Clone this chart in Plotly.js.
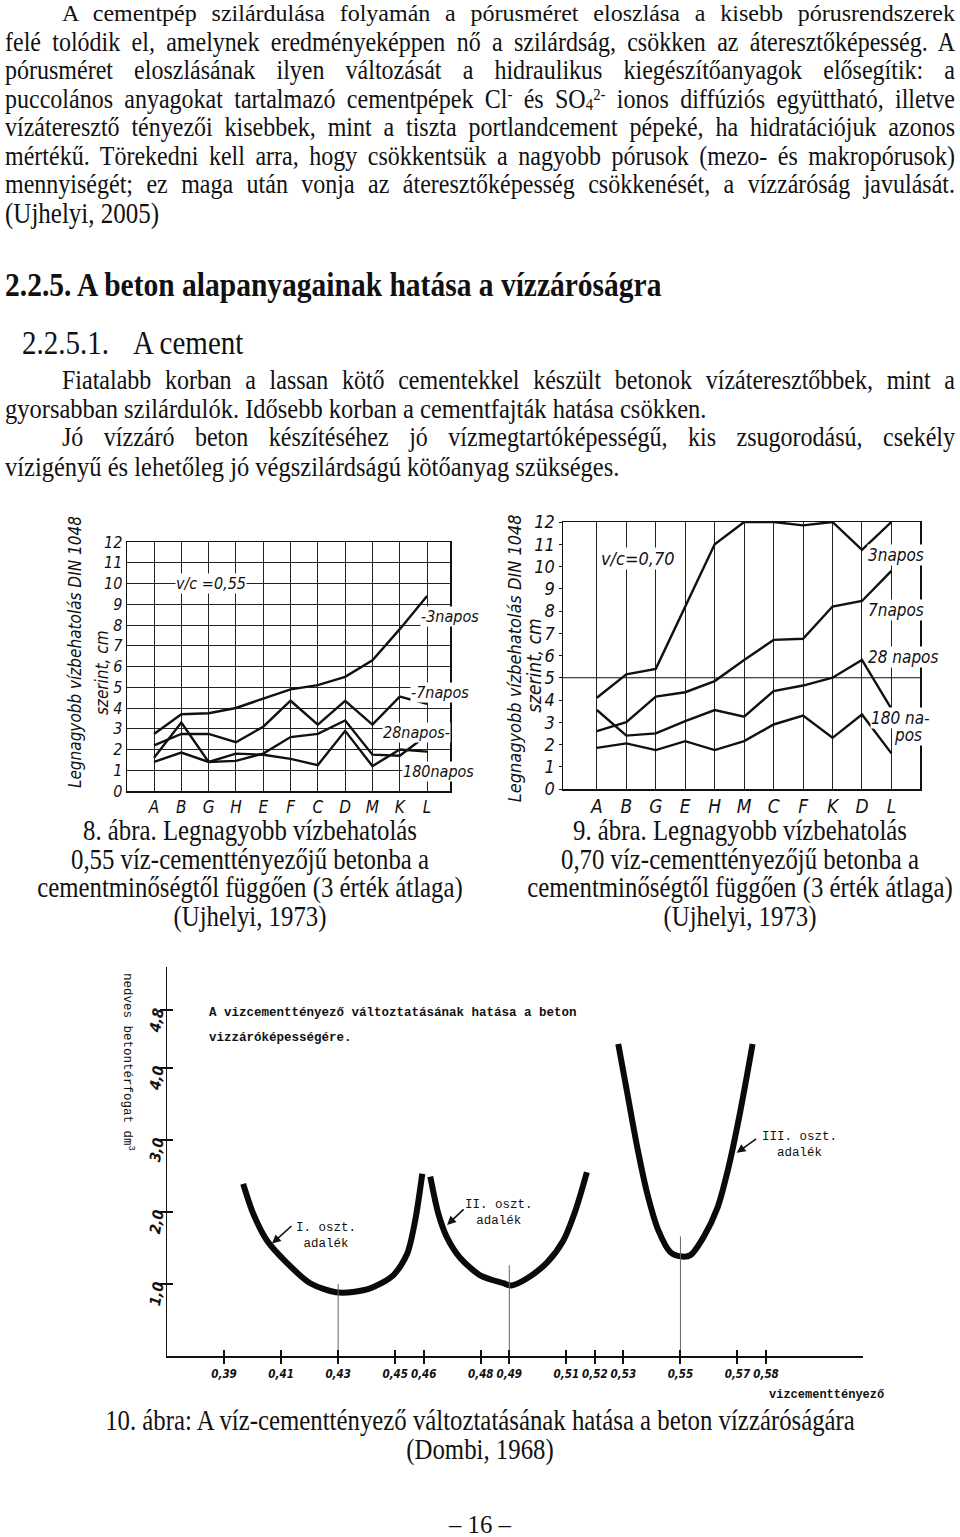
<!DOCTYPE html>
<html><head><meta charset="utf-8">
<script src="https://cdn.plot.ly/plotly-3.0.1.min.js"></script>
<style>
html,body{margin:0;padding:0;background:#fff;}
#page{position:relative;width:960px;height:1537px;overflow:hidden;background:#fff;}
.t{position:absolute;font-family:'Liberation Serif','Times New Roman',serif;font-size:24px;line-height:29px;height:29px;color:#111;white-space:nowrap;transform:scaleY(1.15);transform-origin:50% 50%;}
.j{text-align:justify;text-align-last:justify;white-space:normal;}
.c{text-align:center;font-size:24.8px;}
.sup{position:relative;top:-0.5em;font-size:0.62em;}
.sub{position:relative;top:0.15em;font-size:0.62em;}
.chart{position:absolute;}
</style></head><body><div id="page">
<div class="t j" style="left:62px;top:0px;width:893px;line-height:26.5px;height:26.5px;transform:none">A cementpép szilárdulása folyamán a pórusméret eloszlása a kisebb pórusrendszerek</div>
<div class="t j" style="left:5px;top:28px;width:950px">felé tolódik el, amelynek eredményeképpen nő a szilárdság, csökken az áteresztőképesség. A</div>
<div class="t j" style="left:5px;top:56px;width:950px">pórusméret eloszlásának ilyen változását a hidraulikus kiegészítőanyagok elősegítik: a</div>
<div class="t j" style="left:5px;top:85px;width:950px">puccolános anyagokat tartalmazó cementpépek Cl<span class="sup">-</span> és SO<span class="sub">4</span><span class="sup">2-</span> ionos diffúziós együttható, illetve</div>
<div class="t j" style="left:5px;top:113px;width:950px">vízáteresztő tényezői kisebbek, mint a tiszta portlandcement pépeké, ha hidratációjuk azonos</div>
<div class="t j" style="left:5px;top:142px;width:950px">mértékű. Törekedni kell arra, hogy csökkentsük a nagyobb pórusok (mezo- és makropórusok)</div>
<div class="t j" style="left:5px;top:170px;width:950px">mennyiségét; ez maga után vonja az áteresztőképesség csökkenését, a vízzáróság javulását.</div>
<div class="t" style="left:5px;top:199px;font-size:25px">(Ujhelyi, 2005)</div>

<div class="t" style="left:5px;top:267px;font-size:29.5px;line-height:34px;height:34px;font-weight:bold">2.2.5. A beton alapanyagainak hatása a vízzáróságra</div>
<div class="t" style="left:22px;top:325px;font-size:29px;line-height:34px;height:34px"><span style="display:inline-block;width:111px">2.2.5.1.</span>A cement</div>

<div class="t j" style="left:62px;top:366px;width:893px">Fiatalabb korban a lassan kötő cementekkel készült betonok vízáteresztőbbek, mint a</div>
<div class="t" style="left:5px;top:394px;font-size:24.5px">gyorsabban szilárdulók. Idősebb korban a cementfajták hatása csökken.</div>
<div class="t j" style="left:62px;top:423px;width:893px">Jó vízzáró beton készítéséhez jó vízmegtartóképességű, kis zsugorodású, csekély</div>
<div class="t" style="left:5px;top:452px;font-size:24.5px">vízigényű és lehetőleg jó végszilárdságú kötőanyag szükséges.</div>

<div id="c8" class="chart" style="left:0px;top:505px;width:480px;height:330px"></div>
<div id="c9" class="chart" style="left:480px;top:505px;width:480px;height:330px"></div>

<div class="t c" style="left:0px;top:816px;width:500px">8. ábra. Legnagyobb vízbehatolás</div>
<div class="t c" style="left:0px;top:845px;width:500px">0,55 víz-cementtényezőjű betonba a</div>
<div class="t c" style="left:0px;top:873px;width:500px">cementminőségtől függően (3 érték átlaga)</div>
<div class="t c" style="left:0px;top:902px;width:500px">(Ujhelyi, 1973)</div>
<div class="t c" style="left:490px;top:816px;width:500px">9. ábra. Legnagyobb vízbehatolás</div>
<div class="t c" style="left:490px;top:845px;width:500px">0,70 víz-cementtényezőjű betonba a</div>
<div class="t c" style="left:490px;top:873px;width:500px">cementminőségtől függően (3 érték átlaga)</div>
<div class="t c" style="left:490px;top:902px;width:500px">(Ujhelyi, 1973)</div>

<div id="c10" class="chart" style="left:100px;top:955px;width:800px;height:450px"></div>

<div class="t c" style="left:0px;top:1406px;width:960px">10. ábra: A víz-cementtényező változtatásának hatása a beton vízzáróságára</div>
<div class="t c" style="left:0px;top:1435px;width:960px">(Dombi, 1968)</div>
<div class="t c" style="left:0px;top:1512px;width:960px;line-height:25px;height:25px;transform:none">– 16 –</div>
</div>
<script>
// ---- 8. ábra (v/c = 0,55) ----
const cats055 = ['A','B','G','H','E','F','C','D','M','K','L'];
const nap3_055 = [2.75,3.7,3.75,4.0,4.45,4.9,5.1,5.5,6.3,7.8,9.4];
const nap7_055 = [2.2,2.75,2.75,2.35,3.1,4.35,3.2,4.35,3.2,4.55,4.2];
const nap28_055 = [1.6,3.3,1.4,1.45,1.8,2.6,2.75,3.4,1.75,1.7,2.7];
const nap180_055 = [1.4,1.85,1.4,1.8,1.75,1.55,1.25,2.9,1.2,2.0,1.9];
const labels055 = ['-3napos','-7napos','28napos-','180napos'];

// ---- 9. ábra (v/c = 0,70) ----
const cats070 = ['A','B','G','E','H','M','C','F','K','D','L'];
const nap3_070 = [4.1,5.15,5.4,8.2,11.0,12.0,12.0,11.85,12.0,10.75,12.0];
const nap7_070 = [2.6,3.0,4.15,4.35,4.85,5.8,6.7,6.75,8.2,8.45,9.8];
const nap28_070 = [3.55,2.4,2.5,3.05,3.55,3.25,4.4,4.65,5.0,5.8,3.6];
const nap180_070 = [1.85,2.05,1.75,2.15,1.75,2.15,2.9,3.3,2.3,3.35,1.6];
const refLine070 = 5;

// ---- 10. ábra ----
const wc1 = [0.3967,0.4002,0.4051,0.4121,0.4202,0.4303,0.4412,0.4493,0.4542,0.457,0.4595];
const vol1 = [2.39,1.98,1.6,1.29,1.01,0.88,0.94,1.12,1.42,1.88,2.53];
const wc2 = [0.4623,0.4651,0.4681,0.4728,0.4798,0.4879,0.4907,0.4963,0.5033,0.5089,0.5132,0.5172];
const vol2 = [2.49,1.98,1.65,1.36,1.12,1.01,0.98,1.08,1.3,1.6,2.02,2.55];
const wc3 = [0.5282,0.5314,0.5349,0.5384,0.5423,0.5465,0.5507,0.5535,0.5581,0.563,0.5668,0.571,0.5753];
const vol3 = [4.33,3.64,2.89,2.25,1.74,1.44,1.38,1.40,1.65,2.06,2.61,3.4,4.33];
const wcTicks = [0.39,0.41,0.43,0.45,0.46,0.48,0.49,0.51,0.52,0.53,0.55,0.57,0.58];
const volTicks = [1.0,2.0,3.0,4.0,4.8];
const optWc = [0.43,0.49,0.55];
const optTop = [1.0,1.26,1.66];

const sans = "'Liberation Sans Narrow','DejaVu Sans Condensed','Liberation Sans',sans-serif";
const mono = "'Liberation Mono','DejaVu Sans Mono',monospace";
const ink = '#111';
const cfg = {staticPlot:true, displayModeBar:false};

function ln(x,y,w){return {type:'scatter',mode:'lines',x:x,y:y,line:{color:ink,width:w},hoverinfo:'skip'};}
function lab(x,y,t,sz,anchor,bg){return {x:x,y:y,xref:'x',yref:'y',text:t,showarrow:false,xanchor:anchor||'left',
  bgcolor:bg===false?'rgba(0,0,0,0)':'#fff',borderpad:0,font:{family:sans,size:sz,style:'italic',color:ink}};}
function ytitle(x,y,t,sz){return {xref:'paper',yref:'paper',x:x,y:y,xanchor:'center',yanchor:'middle',text:t,textangle:-90,showarrow:false,
  font:{family:sans,size:sz,style:'italic',color:ink}};}

// Chart 8
Plotly.newPlot('c8',[
  ln(cats055,nap3_055,2.4),ln(cats055,nap7_055,2.4),ln(cats055,nap28_055,2.4),ln(cats055,nap180_055,2.4)
],{
  width:480,height:330,margin:{l:127,r:30,t:37,b:44},
  paper_bgcolor:'rgba(0,0,0,0)',plot_bgcolor:'rgba(0,0,0,0)',showlegend:false,
  xaxis:{type:'category',range:[-0.99,10.84],showgrid:true,gridcolor:'#222',gridwidth:1,showline:true,mirror:true,
    linecolor:ink,linewidth:1.5,ticks:'',zeroline:false,tickfont:{family:sans,size:17,style:'italic',color:ink}},
  yaxis:{range:[0,12],dtick:1,showgrid:true,gridcolor:'#222',gridwidth:1,showline:true,mirror:true,
    linecolor:ink,linewidth:1.5,ticks:'',zeroline:false,tickfont:{family:sans,size:16,style:'italic',color:ink}},
  annotations:[
    lab(2.09,10.0,'v/c =0,55',16,'center'),
    lab(9.74,8.39,labels055[0],16),
    lab(9.38,4.77,labels055[1],16),
    lab(8.35,2.84,labels055[2],16),
    lab(9.08,0.92,labels055[3],16),
    ytitle(-0.161,0.558,'Legnagyobb vízbehatolás DIN 1048',17),
    ytitle(-0.077,0.474,'szerint, cm',17)
  ]
},cfg);

// Chart 9
Plotly.newPlot('c9',[
  ln(cats070,nap3_070,2.4),ln(cats070,nap7_070,2.4),ln(cats070,nap28_070,2.4),ln(cats070,nap180_070,2.4)
],{
  width:480,height:330,margin:{l:83,r:40,t:17,b:46},
  paper_bgcolor:'rgba(0,0,0,0)',plot_bgcolor:'rgba(0,0,0,0)',showlegend:false,
  xaxis:{type:'category',range:[-1.15,10.97],showgrid:true,gridcolor:'#222',gridwidth:1,showline:true,mirror:true,
    linecolor:ink,linewidth:1.5,ticks:'',zeroline:false,tickfont:{family:sans,size:19,style:'italic',color:ink}},
  yaxis:{range:[0,12],dtick:1,showgrid:false,showline:true,mirror:true,
    linecolor:ink,linewidth:1.5,ticks:'outside',ticklen:3,tickcolor:ink,zeroline:false,tickfont:{family:sans,size:18,style:'italic',color:ink}},
  shapes:[{type:'line',xref:'paper',x0:0,x1:1,yref:'y',y0:refLine070,y1:refLine070,line:{color:ink,width:1.2}}],
  annotations:[
    lab(0.1,10.37,'v/c=0,70',18),
    lab(9.17,10.5,'3napos',17),
    lab(9.17,8.03,'7napos',17),
    lab(9.17,5.92,'28 napos',17),
    lab(9.28,3.19,'180 na-',17),
    lab(10.06,2.42,'pos',17),
    ytitle(-0.137,0.49,'Legnagyobb vízbehatolás DIN 1048',18),
    ytitle(-0.082,0.464,'szerint, cm',19)
  ]
},cfg);

// Chart 10
const dropX=[], dropY=[];
optWc.forEach((v,i)=>{dropX.push(v,v,null); dropY.push(0,optTop[i],null);});
const curve = (x,y)=>({type:'scatter',mode:'lines',x:x,y:y,line:{color:'#0a0a0a',width:6,shape:'spline',smoothing:0.8},hoverinfo:'skip'});
const tickTxt = wcTicks.map(v=>v.toFixed(2).replace('.',','));
const volTxt = volTicks.map(v=>v.toFixed(1).replace('.',','));
function arrow(x,y,ax,ay){return {x:x,y:y,xref:'x',yref:'y',ax:ax,ay:ay,text:'',showarrow:true,arrowhead:2,arrowsize:1.1,arrowwidth:1.6,arrowcolor:ink};}
function mtxt(x,y,t,sz,anchor,bold){return {x:x,y:y,xref:'x',yref:'y',text:t,showarrow:false,xanchor:anchor||'left',align:'center',
  font:{family:mono,size:sz,weight:bold?'bold':'normal',color:ink}};}
Plotly.newPlot('c10',[
  {type:'scatter',mode:'lines',x:dropX,y:dropY,xaxis:'x2',yaxis:'y2',line:{color:'#666',width:1},hoverinfo:'skip'},
  curve(wc1,vol1),curve(wc2,vol2),curve(wc3,vol3)
],{
  width:800,height:450,margin:{l:67,r:37,t:12,b:49},
  paper_bgcolor:'rgba(0,0,0,0)',plot_bgcolor:'rgba(0,0,0,0)',showlegend:false,
  xaxis:{range:[0.37,0.614],showgrid:false,zeroline:false,showline:true,linecolor:ink,linewidth:2,
    tickmode:'array',tickvals:wcTicks,ticktext:tickTxt,ticks:'outside',ticklen:6,tickwidth:2,tickcolor:ink,tickangle:0,
    tickfont:{family:sans,size:11.5,weight:'bold',style:'italic',color:ink}},
  yaxis:{range:[0,5.4],showgrid:false,zeroline:false,showline:true,linecolor:ink,linewidth:1.5,
    tickmode:'array',tickvals:volTicks,ticktext:volTxt,ticks:'outside',ticklen:6,tickwidth:2,tickcolor:ink,tickangle:-80,
    tickfont:{family:sans,size:15,weight:'bold',style:'italic',color:ink}},
  xaxis2:{overlaying:'x',anchor:'y2',range:[0.37,0.614],showgrid:false,zeroline:false,showline:false,
    tickmode:'array',tickvals:wcTicks,ticks:'inside',ticklen:6,tickwidth:2,tickcolor:ink,showticklabels:false},
  yaxis2:{overlaying:'y',anchor:'x2',range:[0,5.4],showgrid:false,zeroline:false,showline:false,
    tickmode:'array',tickvals:volTicks,ticks:'inside',ticklen:6,tickwidth:2,tickcolor:ink,showticklabels:false},
  annotations:[
    mtxt(0.384,4.76,'A vizcementtényező változtatásának hatása a beton',12.5,'left',true),
    mtxt(0.384,4.42,'vizzáróképességére.',12.5,'left',true),
    mtxt(0.4258,1.66,'I. oszt.<br>adalék',12.5,'center',false),
    mtxt(0.4863,1.99,'II. oszt.<br>adalék',12.5,'center',false),
    mtxt(0.5917,2.93,'III. oszt.<br>adalék',12.5,'center',false),
    arrow(0.4068,1.56,21,-19),
    arrow(0.4682,1.82,18,-17),
    arrow(0.5697,2.82,21,-15),
    {xref:'paper',yref:'paper',x:0.862,y:-0.100,xanchor:'left',yanchor:'middle',text:'vizcementtényező',showarrow:false,
      font:{family:mono,size:12,weight:'bold',color:ink}},
    {xref:'paper',yref:'paper',x:-0.056,y:0.756,xanchor:'center',yanchor:'middle',text:'nedves betontérfogat dm<sup>3</sup>',textangle:90,showarrow:false,
      font:{family:mono,size:12.5,color:ink}}
  ]
},cfg);
</script>
</body></html>
